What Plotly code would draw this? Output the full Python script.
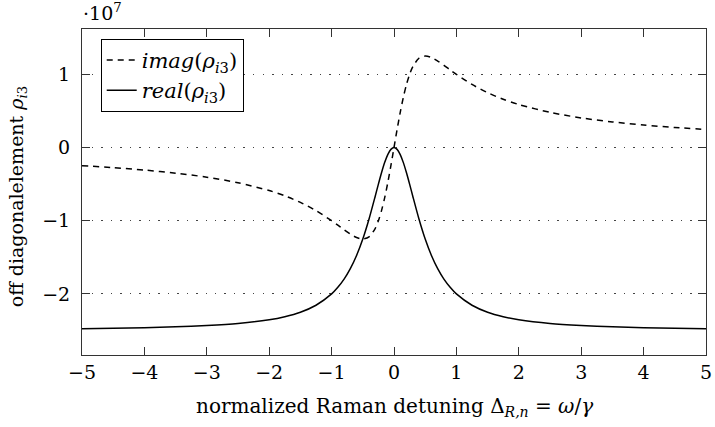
import plotly.graph_objects as go

# Normalized Raman detuning (omega / gamma)
detuning = [-5, -4.5, -4, -3.5, -3, -2.5, -2, -1.75, -1.5, -1.25, -1,
            -0.9, -0.8, -0.7, -0.6, -0.5, -0.4, -0.3, -0.25, -0.2, -0.15,
            -0.1, -0.05, 0, 0.05, 0.1, 0.15, 0.2, 0.25, 0.3, 0.4, 0.5,
            0.6, 0.7, 0.8, 0.9, 1, 1.25, 1.5, 1.75, 2, 2.5, 3, 3.5, 4,
            4.5, 5]

# Off-diagonal element rho_i3, in units of 1e7
imag_rho = [-0.248, -0.274, -0.308, -0.350, -0.405, -0.481, -0.588, -0.660,
            -0.750, -0.862, -1.000, -1.061, -1.124, -1.182, -1.230, -1.250,
            -1.220, -1.103, -1.000, -0.862, -0.688, -0.481, -0.248, 0.000,
            0.248, 0.481, 0.688, 0.862, 1.000, 1.103, 1.220, 1.250, 1.230,
            1.182, 1.124, 1.061, 1.000, 0.862, 0.750, 0.660, 0.588, 0.481,
            0.405, 0.350, 0.308, 0.274, 0.248]

real_rho = [-2.475, -2.470, -2.462, -2.450, -2.432, -2.404, -2.353, -2.311,
            -2.250, -2.155, -2.000, -1.910, -1.798, -1.655, -1.475, -1.250,
            -0.976, -0.662, -0.500, -0.345, -0.206, -0.096, -0.025, 0.000,
            -0.025, -0.096, -0.206, -0.345, -0.500, -0.662, -0.976, -1.250,
            -1.475, -1.655, -1.798, -1.910, -2.000, -2.155, -2.250, -2.311,
            -2.353, -2.404, -2.432, -2.450, -2.462, -2.470, -2.475]

x_ticks = [-5, -4, -3, -2, -1, 0, 1, 2, 3, 4, 5]
x_tick_text = ["\u22125", "\u22124", "\u22123", "\u22122", "\u22121",
               "0", "1", "2", "3", "4", "5"]
y_ticks = [-2, -1, 0, 1]
y_tick_text = ["\u22122", "\u22121", "0", "1"]

FONT = "DejaVu Serif"
FS = 19

fig = go.Figure()
fig.add_trace(go.Scatter(
    x=detuning, y=imag_rho, mode="lines",
    name="<i>imag</i>(<i>\u03c1</i><sub><i>i</i>3</sub>)",
    line=dict(color="black", width=1.5, dash="6px,5px",
              shape="spline", smoothing=0.8),
))
fig.add_trace(go.Scatter(
    x=detuning, y=real_rho, mode="lines",
    name="<i>real</i>(<i>\u03c1</i><sub><i>i</i>3</sub>)",
    line=dict(color="black", width=1.5, shape="spline", smoothing=0.8),
))

axis_common = dict(
    showline=True, linecolor="#333", linewidth=1, mirror="ticks",
    ticks="inside", ticklen=8, tickcolor="#333", tickwidth=1,
    zeroline=False, ticklabeloverflow="allow",
    tickfont=dict(family=FONT, size=FS, color="black"),
)

fig.update_layout(
    width=715, height=427,
    margin=dict(l=82, r=3, t=29, b=72),
    paper_bgcolor="white", plot_bgcolor="white",
    font=dict(family=FONT, size=FS, color="black"),
    xaxis=dict(range=[-5.0001, 5.0001], tickvals=x_ticks,
               ticktext=x_tick_text, showgrid=False, **axis_common),
    yaxis=dict(range=[-2.835, 1.62], tickvals=y_ticks, ticktext=y_tick_text,
               showgrid=True, gridcolor="#444", gridwidth=1,
               griddash="1.5px,8px", ticklabelstandoff=7, **axis_common),
    legend=dict(x=0.03, y=0.97, xanchor="left", yanchor="top",
                bgcolor="white", bordercolor="black", borderwidth=1,
                font=dict(family=FONT, size=21), tracegroupgap=0),
    showlegend=True,
    annotations=[
        dict(text="\u00b710<sup>7</sup>", xref="paper", yref="paper",
             x=0.033, y=1.052, xanchor="center", yanchor="middle",
             showarrow=False, font=dict(family=FONT, size=FS)),
        dict(text="normalized Raman detuning \u0394<sub><i>R,n</i></sub> = <i>\u03c9</i>/<i>\u03b3</i>",
             xref="paper", yref="paper", x=0.5, y=-0.161,
             xanchor="center", yanchor="middle", showarrow=False,
             font=dict(family=FONT, size=20)),
        dict(text="off diagonalelement <i>\u03c1</i><sub><i>i</i>3</sub>",
             xref="paper", yref="paper", x=-0.102, y=0.485,
             xanchor="center", yanchor="middle", textangle=-90,
             showarrow=False, font=dict(family=FONT, size=FS)),
    ],
)

fig.write_html("out.html")
